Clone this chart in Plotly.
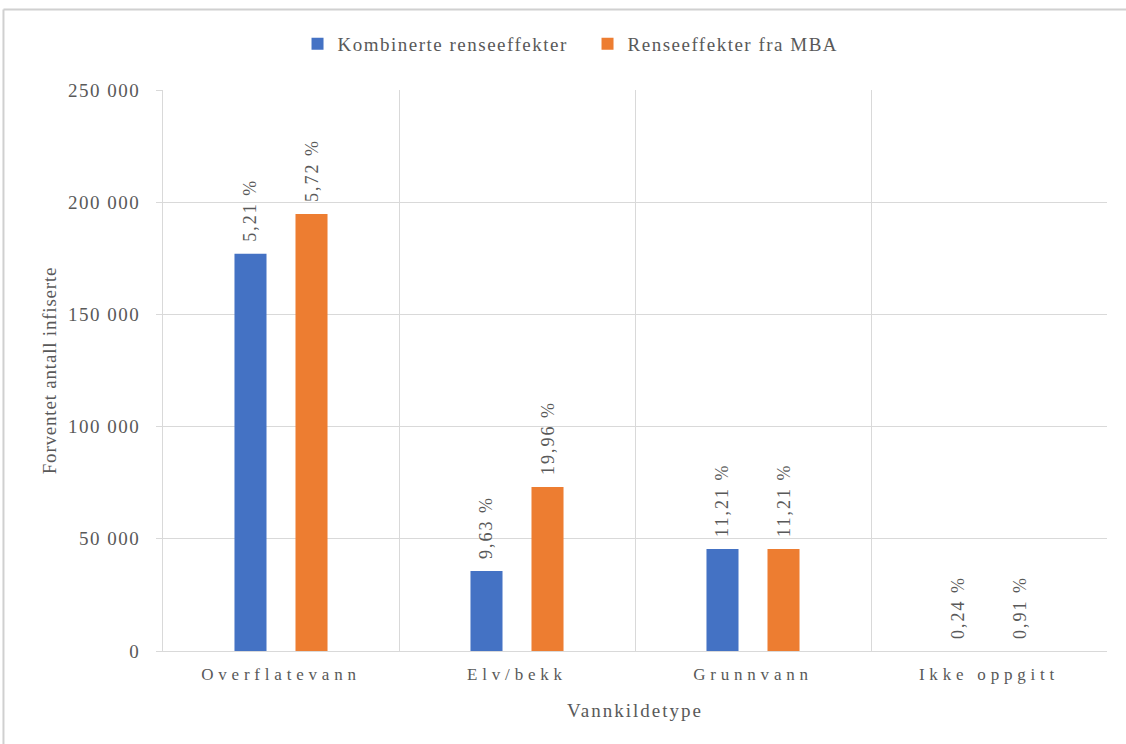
import plotly.graph_objects as go

# Water source categories and expected number of infected people
categories = ["Overflatevann", "Elv/bekk", "Grunnvann", "Ikke oppgitt"]
kombinerte = [177000, 35700, 45500, 0]
mba = [194700, 73100, 45500, 0]
kombinerte_pct = ["5,21 %", "9,63 %", "11,21 %", "0,24 %"]
mba_pct = ["5,72 %", "19,96 %", "11,21 %", "0,91 %"]
y_ticks = [0, 50000, 100000, 150000, 200000, 250000]
y_tick_labels = ["0", "50 000", "100 000", "150 000", "200 000", "250 000"]

series_names = ["Kombinerte renseeffekter", "Renseeffekter fra MBA"]
colors = ["#4472C4", "#ED7D31"]
text_color = "#595959"
grid_color = "#D9D9D9"
font_family = "Liberation Serif"


def spaced(label, px=3):
    return f'<span style="letter-spacing:{px}px">{label}</span>'


def pct_label(s):
    # leading no-break spaces lift the rotated label clear of the bar top
    return "\u00a0\u00a0" + spaced(s, 2)


fig = go.Figure()
for name, vals, pcts, col in zip(series_names, [kombinerte, mba],
                                 [kombinerte_pct, mba_pct], colors):
    fig.add_trace(go.Bar(
        name=spaced(name, 1.5),
        x=categories,
        y=vals,
        marker=dict(color=col, line=dict(width=0)),
        text=[pct_label(p) for p in pcts],
        textposition="outside",
        textangle=-90,
        constraintext="none",
        cliponaxis=False,
        outsidetextfont=dict(family=font_family, size=18, color=text_color),
    ))

fig.update_layout(
    width=1126,
    height=744,
    margin=dict(l=163, r=19, t=90, b=93),
    paper_bgcolor="white",
    plot_bgcolor="white",
    barmode="group",
    bargap=0.483,
    bargroupgap=0.475,
    separators=", ",
    font=dict(family=font_family, size=18, color=text_color),
    showlegend=True,
    legend=dict(
        orientation="h",
        x=0.1425,
        xanchor="left",
        y=1.082,
        yanchor="middle",
        font=dict(family=font_family, size=19, color=text_color),
        itemwidth=30,
        entrywidth=245,
        entrywidthmode="pixels",
        traceorder="normal",
    ),
    xaxis=dict(
        type="category",
        tickmode="array",
        tickvals=categories,
        ticktext=[spaced(c, 4.8) for c in categories],
        tickson="boundaries",
        showgrid=True,
        gridcolor=grid_color,
        gridwidth=1,
        showline=True,
        linecolor=grid_color,
        linewidth=1,
        ticks="",
        ticklabelstandoff=8,
        tickfont=dict(family=font_family, size=17, color=text_color),
        title=dict(text=spaced("Vannkildetype", 2),
                   font=dict(family=font_family, size=19, color=text_color),
                   standoff=20),
    ),
    yaxis=dict(
        range=[0, 250000],
        tickmode="array",
        tickvals=y_ticks,
        ticktext=[spaced(t, 1.5) for t in y_tick_labels],
        showgrid=True,
        gridcolor=grid_color,
        gridwidth=1,
        showline=True,
        linecolor=grid_color,
        linewidth=1,
        ticks="outside",
        ticklen=6,
        tickcolor=grid_color,
        ticklabelstandoff=12,
        zeroline=False,
        tickfont=dict(family=font_family, size=19, color=text_color),
        title=dict(text=spaced("Forventet antall infiserte", 0.8),
                   font=dict(family=font_family, size=19, color=text_color),
                   standoff=6),
    ),
    shapes=[
        # chart frame edges along top and left
        dict(type="line", xref="paper", yref="paper",
             x0=-0.169, x1=1.05, y0=1.1435, y1=1.1435,
             line=dict(color="#D0D0D0", width=2)),
        dict(type="line", xref="paper", yref="paper",
             x0=-0.169, x1=-0.169, y0=-0.2, y1=1.1435,
             line=dict(color="#D0D0D0", width=2)),
    ],
)

fig.write_html("out.html")
